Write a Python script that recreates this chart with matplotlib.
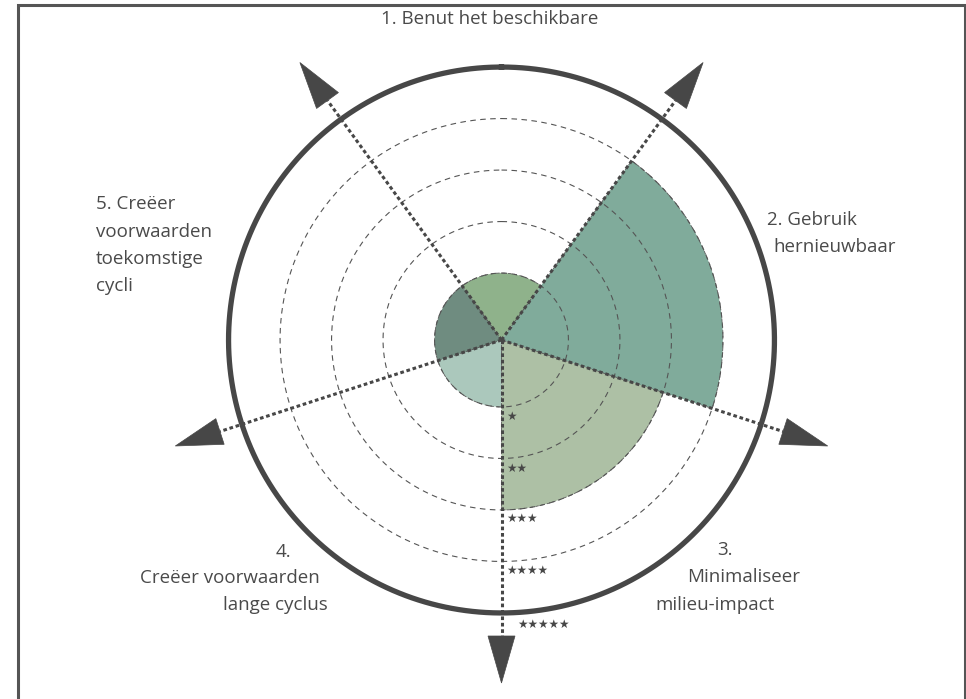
import numpy as np
import matplotlib.pyplot as plt
from matplotlib.patches import Rectangle, Polygon

# principle scores (0-5 stars), clockwise from the top
principles = ['1. Benut het beschikbare', '2. Gebruik hernieuwbaar', '3. Minimaliseer milieu-impact',
              '4. Creëer voorwaarden lange cyclus', '5. Creëer voorwaarden toekomstige cycli']
scores = [1, 4, 3, 1, 1]
colors = ['#8fb28b', '#80ab9b', '#adc0a5', '#abc8bc', '#6f8c80']
levels = [1, 2, 3, 4, 5]
star_labels = ['★', '★★', '★★★', '★★★★', '★★★★★']

W, H = 966, 699
CX, CY = 501.5, 340.0      # centre of the rose, pixels from top-left
PX = 51.5                  # pixels per star
OFF = 0.3                  # radial offset of the star scale
HALF = 350                 # half size of polar axes in pixels
INK = '#474747'
FONT = ['Open Sans', 'DejaVu Sans']


def fx(x):
    return x / W


def fy(y):
    return 1 - y / H


fig = plt.figure(figsize=(W / 100, H / 100), dpi=100)
fig.patches.append(Rectangle((fx(17.5), -0.05), fx(964.5) - fx(17.5), fy(5) + 0.05,
                             transform=fig.transFigure, fill=False, ec='#555555', lw=2.2))

ax = fig.add_axes([fx(CX - HALF), fy(CY + HALF), 2 * HALF / W, 2 * HALF / H], projection='polar')
ax.set_theta_zero_location('N')
ax.set_theta_direction(-1)
ax.set_ylim(0, HALF / PX)
ax.axis('off')

n = len(scores)
step = 2 * np.pi / n
theta = np.arange(n) * step
ax.bar(theta, np.array(scores) + OFF, width=step, bottom=0, color=colors,
       edgecolor='#5a5a5a', linewidth=0.6, linestyle=(0, (4, 3)), zorder=2)

# rings
t = np.linspace(0, 2 * np.pi, 500)
for lv in levels[:-1]:
    ax.plot(t, np.full_like(t, lv + OFF), color='#555555', lw=0.8, ls=(0, (5, 4)), zorder=3)
ax.plot(t, np.full_like(t, levels[-1] + OFF), color=INK, lw=3.8, zorder=4)

# axes with arrow heads between sectors
base_px, tip_px, half_w = 296, 343, 13.5
for k in range(n):
    a = theta[k] + step / 2
    ax.plot([a, a], [0, base_px / PX], color=INK, lw=2.2, ls=(0, (1.2, 0.9)), zorder=5)
    da = np.arctan(half_w / base_px)
    rb = np.hypot(base_px, half_w) / PX
    head = Polygon([[a - da, rb], [a + da, rb], [a, tip_px / PX]], closed=True,
                   fc=INK, ec=INK, lw=0.5, zorder=6)
    ax.add_patch(head)

# star scale along the downward axis
star_pos = [(506, 416), (506, 468), (506, 518), (506, 570), (517, 624)]
for s, (x, y) in zip(star_labels, star_pos):
    fig.text(fx(x), fy(y), s, ha='left', va='center', fontsize=8.5, color=INK, family='DejaVu Sans')

# principle labels
label_lines = [
    [('1. Benut het beschikbare', 490, 18.5, 'center')],
    [('2. Gebruik', 767, 220, 'left'), ('hernieuwbaar', 773, 247, 'left')],
    [('3.', 717, 550, 'left'), ('Minimaliseer', 687, 577, 'left'), ('milieu-impact', 655, 605, 'left')],
    [('4.', 276, 552, 'left'), ('Creëer voorwaarden', 320, 578, 'right'), ('lange cyclus', 223, 605, 'left')],
    [('5. Creëer', 96, 204, 'left'), ('voorwaarden', 96, 232, 'left'),
     ('toekomstige', 96, 259, 'left'), ('cycli', 96, 286, 'left')],
]
for lines in label_lines:
    for txt, x, y, ha in lines:
        fig.text(fx(x), fy(y), txt, ha=ha, va='center', fontsize=13.5, color='#4a4a4a', family=FONT)

fig.savefig('out.png', dpi=100)
